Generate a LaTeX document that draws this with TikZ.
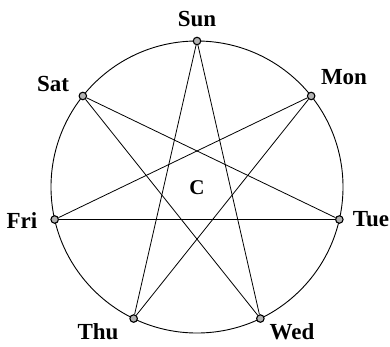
\documentclass[tikz,border=0pt]{standalone}
\usepackage{fontspec}
\setmainfont{Liberation Serif}
\begin{document}
\begin{tikzpicture}[x=1pt,y=-1pt,
  dot/.style={circle,draw=black,line width=1.1pt,fill=gray!60,inner sep=0pt,minimum size=7.5pt},
  lbl/.style={font=\bfseries\fontsize{23}{23}\selectfont,inner sep=0pt},
  clbl/.style={font=\bfseries\fontsize{21}{21}\selectfont,inner sep=0pt},
  edge/.style={draw=black,line width=0.8pt},
  ring/.style={draw=black,line width=0.9pt}]
\useasboundingbox (0,0) rectangle (390,346);
\coordinate (O) at (197,187);
\draw[ring] (O) circle (146);
% heptagon vertices (regular, r = 146)
\node[dot] (sun) at (197,41) {};
\node[dot] (mon) at (311.15,95.97) {};
\node[dot] (tue) at (339.34,219.49) {};
\node[dot] (wed) at (260.35,318.54) {};
\node[dot] (thu) at (133.65,318.54) {};
\node[dot] (fri) at (54.66,219.49) {};
\node[dot] (sat) at (82.85,95.97) {};
% heptagram {7/3}
\draw[edge] (sun) -- (wed);
\draw[edge] (wed) -- (sat);
\draw[edge] (sat) -- (tue);
\draw[edge] (tue) -- (fri);
\draw[edge] (fri) -- (mon);
\draw[edge] (mon) -- (thu);
\draw[edge] (thu) -- (sun);
% labels
\node[lbl] (lsun) at (197,19) {Sun};
\node[lbl] (lmon) at (344,77) {Mon};
\node[lbl] (ltue) at (371,219) {Tue};
\node[lbl] (lwed) at (292,332) {Wed};
\node[lbl] (lthu) at (98,332) {Thu};
\node[lbl] (lfri) at (22,221) {Fri};
\node[lbl] (lsat) at (53,84) {Sat};
\node[clbl] (lc) at (197,188) {C};
\end{tikzpicture}
\end{document}
